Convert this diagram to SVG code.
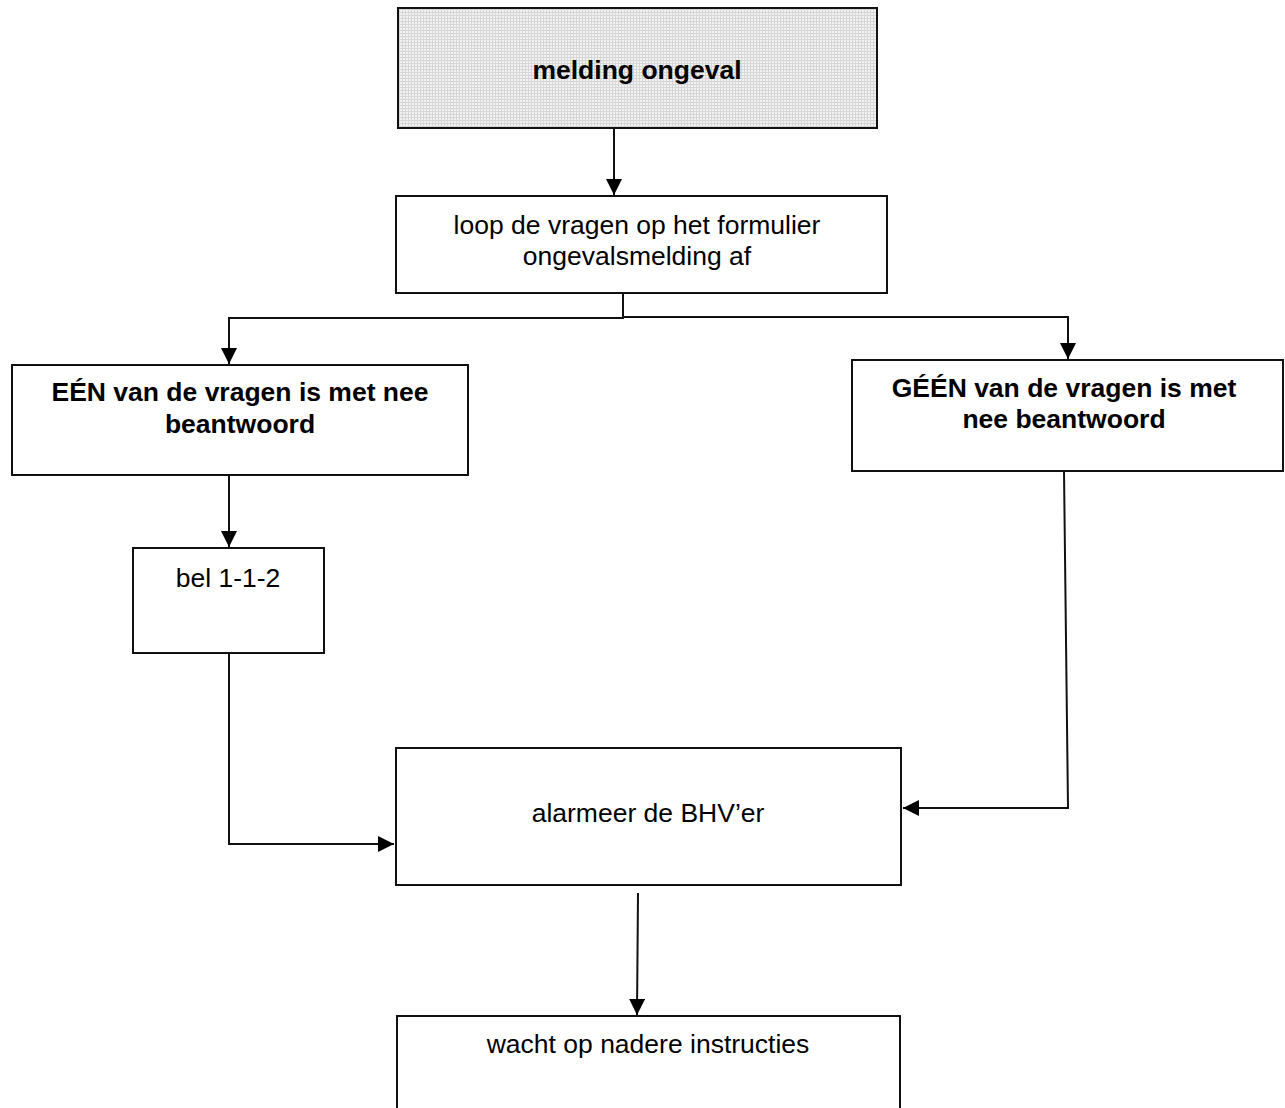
<svg xmlns="http://www.w3.org/2000/svg" width="1285" height="1108" viewBox="0 0 1285 1108">
<style>
.box{fill:#fff;stroke:#111;stroke-width:2}
.t{font-family:"Liberation Sans",Arial,sans-serif;font-size:26.5px;fill:#000;text-anchor:middle}
.b{font-weight:bold}
.c{fill:none;stroke:#111;stroke-width:2}
</style>
<defs>
<pattern id="grid" width="3" height="3" patternUnits="userSpaceOnUse">
<rect width="3" height="3" fill="#f2f2f2"/>
<path d="M0 0.5H3M0.5 0V3" stroke="#d6d6d6" stroke-width="1"/>
</pattern>
<marker id="ah" markerWidth="18" markerHeight="18" refX="16" refY="8" orient="auto" markerUnits="userSpaceOnUse">
<path d="M0 0L16 8L0 16Z" fill="#000"/>
</marker>
</defs>
<rect width="1285" height="1108" fill="#fff"/>
<g id="connectors">
<path class="c" d="M614 128V195" marker-end="url(#ah)"/>
<path class="c" d="M623 293V318H229V364" marker-end="url(#ah)"/>
<path class="c" d="M623 317H1068V359" marker-end="url(#ah)"/>
<path class="c" d="M229 475V547" marker-end="url(#ah)"/>
<path class="c" d="M229 653V844H394" marker-end="url(#ah)"/>
<path class="c" d="M1064 471L1068 808H903" marker-end="url(#ah)"/>
<path class="c" d="M638 893L637 1015" marker-end="url(#ah)"/>
</g>
<g id="n1">
<rect x="398" y="8" width="479" height="120" fill="url(#grid)" stroke="#111" stroke-width="2"/>
<text class="t b" x="637" y="79">melding ongeval</text>
</g>
<g id="n2">
<rect class="box" x="396" y="196" width="491" height="97"/>
<text class="t" x="637" y="234">loop de vragen op het formulier</text>
<text class="t" x="637" y="265">ongevalsmelding af</text>
</g>
<g id="n3">
<rect class="box" x="12" y="365" width="456" height="110"/>
<text class="t b" x="240" y="401">EÉN van de vragen is met nee</text>
<text class="t b" x="240" y="433">beantwoord</text>
</g>
<g id="n4">
<rect class="box" x="852" y="360" width="431" height="111"/>
<text class="t b" x="1064" y="397">GÉÉN van de vragen is met</text>
<text class="t b" x="1064" y="428">nee beantwoord</text>
</g>
<g id="n5">
<rect class="box" x="133" y="548" width="191" height="105"/>
<text class="t" x="228" y="587">bel 1-1-2</text>
</g>
<g id="n6">
<rect class="box" x="396" y="748" width="505" height="137"/>
<text class="t" x="648" y="822">alarmeer de BHV’er</text>
</g>
<g id="n7">
<rect class="box" x="397" y="1016" width="503" height="100"/>
<text class="t" x="648" y="1053">wacht op nadere instructies</text>
</g>
</svg>
